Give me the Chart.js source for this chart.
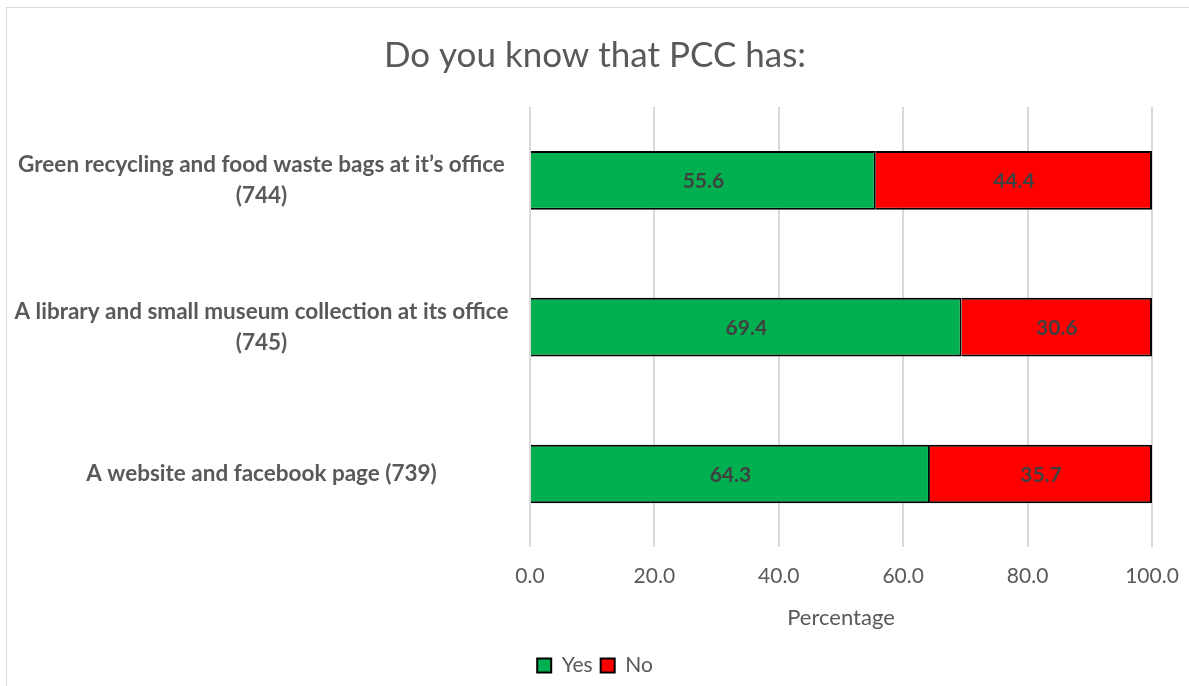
<!DOCTYPE html>
<html lang="en">
<head>
  <meta charset="UTF-8">
  <title>Do you know that PCC has:</title>
  <script src="https://cdn.jsdelivr.net/npm/chart.js"></script>
  <style>
    body {
      margin: 0;
      background: #fff;
      font-family: Lato, Arial, sans-serif;
    }
    .frame {
      position: absolute;
      left: 6px;
      top: 7px;
      width: 1200px;
      height: 700px;
      border: 1px solid #d9d9d9;
      box-sizing: border-box;
    }
    .chart-container {
      position: relative;
      width: 1189px;
      height: 686px;
    }
  </style>
</head>
<body>
  <div class="frame"></div>
  <div class="chart-container">
    <canvas id="pccChart"></canvas>
  </div>

  <script>
    const categories = [
      ['Green recycling and food waste bags at it\u2019s office', '(744)'],
      ['A library and small museum collection at its office', '(745)'],
      'A website and facebook page (739)'
    ];
    const yesValues = [55.6, 69.4, 64.3];
    const noValues = [44.4, 30.6, 35.7];

    const grey = '#595959';
    const fontFamily = 'Lato, Arial, sans-serif';

    // draws the value in the middle of each bar segment
    const barValues = {
      id: 'barValues',
      afterDatasetsDraw(chart) {
        const ctx = chart.ctx;
        ctx.save();
        ctx.font = 'bold 21px ' + fontFamily;
        ctx.fillStyle = '#404040';
        ctx.textAlign = 'center';
        ctx.textBaseline = 'middle';
        chart.data.datasets.forEach((ds, i) => {
          chart.getDatasetMeta(i).data.forEach((bar, j) => {
            const p = bar.getProps(['x', 'y', 'base'], true);
            ctx.fillText(ds.data[j].toFixed(1), (p.x + p.base) / 2, p.y + 1);
          });
        });
        ctx.restore();
      }
    };

    new Chart(document.getElementById('pccChart'), {
      type: 'bar',
      data: {
        labels: categories,
        datasets: [
          {
            label: 'Yes',
            data: yesValues,
            backgroundColor: '#00b050',
            borderColor: '#000',
            borderWidth: 2,
            barPercentage: 0.8,
            categoryPercentage: 0.5
          },
          {
            label: 'No',
            data: noValues,
            backgroundColor: '#ff0000',
            borderColor: '#000',
            borderWidth: 2,
            barPercentage: 0.8,
            categoryPercentage: 0.5
          }
        ]
      },
      options: {
        indexAxis: 'y',
        responsive: true,
        maintainAspectRatio: false,
        animation: false,
        layout: {
          padding: { left: 1, right: 0, top: 0, bottom: 0 }
        },
        plugins: {
          title: {
            display: true,
            text: 'Do you know that PCC has:',
            color: grey,
            font: { size: 35, weight: 'normal', family: fontFamily },
            padding: { top: 35, bottom: 30 }
          },
          legend: {
            position: 'bottom',
            labels: {
              color: grey,
              font: { size: 21, family: fontFamily },
              boxWidth: 14,
              boxHeight: 14,
              padding: 8,
              useBorderRadius: false
            }
          },
          tooltip: { enabled: false }
        },
        scales: {
          x: {
            stacked: true,
            min: 0,
            max: 100,
            ticks: {
              stepSize: 20,
              color: grey,
              padding: 16,
              font: { size: 21, family: fontFamily },
              callback: val => val.toFixed(1)
            },
            grid: { color: '#d9d9d9', lineWidth: 2, drawTicks: false },
            border: { display: false },
            title: {
              display: true,
              text: 'Percentage',
              color: grey,
              font: { size: 22, family: fontFamily },
              padding: { top: 0, bottom: 16 }
            },
            afterFit: scale => { scale.paddingRight = 37; }
          },
          y: {
            stacked: true,
            ticks: {
              color: grey,
              crossAlign: 'center',
              padding: 13.5,
              font: { size: 22.5, weight: 'bold', family: fontFamily, lineHeight: 1.4 }
            },
            grid: { display: false },
            border: { display: false }
          }
        }
      },
      plugins: [barValues]
    });
  </script>
</body>
</html>
